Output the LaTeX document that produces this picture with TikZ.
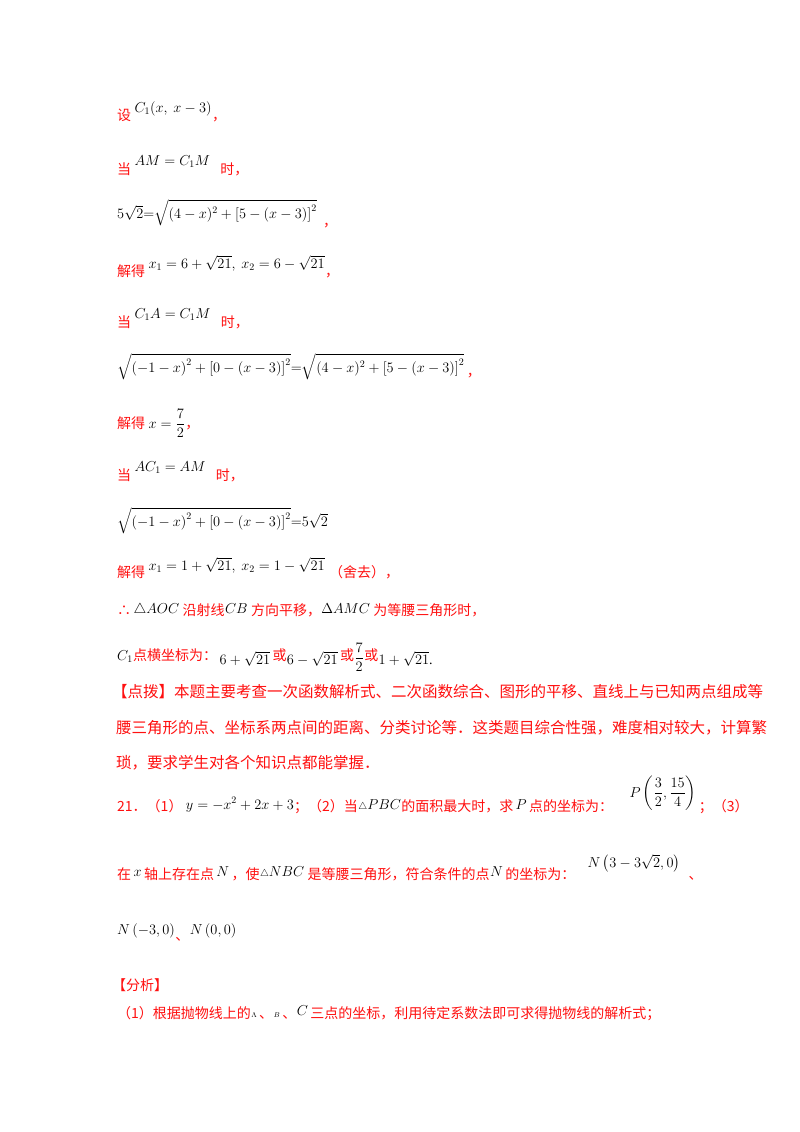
\documentclass[tikz,border=0pt]{standalone}
\usepackage{amsmath}
\usepackage{fontspec}
\setmainfont{Liberation Serif}
\newfontfamily\cjk{Noto Sans CJK SC}
\definecolor{rd}{HTML}{FF1010}
\begin{document}
\begin{tikzpicture}[x=1pt,y=-1pt,
  t/.style={anchor=base west,inner sep=0pt,font=\fontsize{14}{16}\selectfont},
  r/.style={t,text=rd,font=\fontsize{14}{16}\selectfont\cjk}]
\useasboundingbox[fill=white] (0,0) rectangle (800,1132);
\node[r] (a1) at (117,120) {设};
\node[t] (a2) at ([xshift=3,yshift=8]a1.base east) {$C_1(x,\ x-3)$};
\node[r] (a3) at ([yshift=-8]a2.base east) {，};
\node[r] (b1) at (117,174) {当};
\node[t] (b2) at ([xshift=3,yshift=9]b1.base east) {$AM=C_1M$};
\node[r] (b3) at ([xshift=10,yshift=-9]b2.base east) {时，};
\node[t] (c1) at (117,218) {$5\sqrt2{=}\sqrt{(4-x)^2+\left[5-(x-3)\right]^2}$};
\node[r] (c2) at ([xshift=6,yshift=-8]c1.base east) {，};
\node[r] (d1) at (117,276) {解得};
\node[t] (d2) at ([xshift=3,yshift=8]d1.base east) {$x_1=6+\sqrt{21},\ x_2=6-\sqrt{21}$};
\node[r] (d3) at ([yshift=-8]d2.base east) {，};
\node[r] (e1) at (117,327) {当};
\node[t] (e2) at ([xshift=3,yshift=9]e1.base east) {$C_1A=C_1M$};
\node[r] (e3) at ([xshift=10,yshift=-9]e2.base east) {时，};
\node[t] (f1) at (117,372) {$\sqrt{\left(-1-x\right)^2+\left[0-(x-3)\right]^2}{=}\sqrt{(4-x)^2+\left[5-(x-3)\right]^2}$};
\node[r] (f2) at ([xshift=2,yshift=-4]f1.base east) {，};
\node[r] (g1) at (117,428) {解得};
\node[t] (g2) at ([xshift=3]g1.base east) {$x=\dfrac72$};
\node[r] (g3) at (g2.base east) {，};
\node[r] (h1) at (117,480) {当};
\node[t] (h2) at ([xshift=3,yshift=9]h1.base east) {$AC_1=AM$};
\node[r] (h3) at ([xshift=10,yshift=-9]h2.base east) {时，};
\node[t] (i1) at (117,526) {$\sqrt{\left(-1-x\right)^2+\left[0-(x-3)\right]^2}{=}5\sqrt2$};
\node[r] (j1) at (117,577) {解得};
\node[t] (j2) at ([xshift=3,yshift=7]j1.base east) {$x_1=1+\sqrt{21},\ x_2=1-\sqrt{21}$};
\node[r] (j3) at ([xshift=4,yshift=-7]j2.base east) {（舍去），};
\node[r] (k1) at (117,615) {∴};
\node[t] (k2) at ([xshift=2,yshift=2]k1.base east) {$\triangle AOC$};
\node[r] (k3) at ([xshift=3,yshift=-2]k2.base east) {沿射线};
\node[t] (k4) at ([yshift=2]k3.base east) {$CB$};
\node[r] (k5) at ([xshift=3,yshift=-2]k4.base east) {方向平移，};
\node[t] (k6) at ([yshift=2]k5.base east) {$\Delta AMC$};
\node[r] (k7) at ([xshift=3,yshift=-2]k6.base east) {为等腰三角形时，};
\node[t] (l1) at (117,660) {$C_1$};
\node[r] (l2) at (l1.base east) {点横坐标为：};
\node[t] (l3) at ([xshift=2,yshift=-4]l2.base east) {$6+\sqrt{21}$};
\node[r] (l4) at ([xshift=2,yshift=4]l3.base east) {或};
\node[t] (l5) at ([yshift=-4]l4.base east) {$6-\sqrt{21}$};
\node[r] (l6) at ([xshift=2,yshift=4]l5.base east) {或};
\node[t] (l7) at ([yshift=-2]l6.base east) {$\dfrac72$};
\node[r] (l8) at ([yshift=2]l7.base east) {或};
\node[t] (l9) at ([yshift=-4]l8.base east) {$1+\sqrt{21}$.};
\node[r,font=\fontsize{15.5}{17}\selectfont\cjk] (m1) at (112,697) {【点拨】本题主要考查一次函数解析式、二次函数综合、图形的平移、直线上与已知两点组成等};
\node[r,font=\fontsize{15.5}{17}\selectfont\cjk] (m2) at (116,733) {腰三角形的点、坐标系两点间的距离、分类讨论等．这类题目综合性强，难度相对较大，计算繁};
\node[r,font=\fontsize{15.5}{17}\selectfont\cjk] (m3) at (116,768) {琐，要求学生对各个知识点都能掌握．};
\node[r] (n1) at (117,811) {21．（1）};
\node[t] (n2) at ([xshift=3,yshift=2]n1.base east) {$y=-x^2+2x+3$};
\node[r] (n3) at ([yshift=-2]n2.base east) {；（2）当};
\node[t] (n4) at ([yshift=2]n3.base east) {${\scriptstyle\triangle}PBC$};
\node[r] (n5) at ([yshift=-2]n4.base east) {的面积最大时，求};
\node[t] (n6) at ([xshift=2,yshift=2]n5.base east) {$P$};
\node[r] (n7) at ([xshift=2,yshift=-2]n6.base east) {点的坐标为：};
\node[t] (n8) at ([xshift=16,yshift=14]n7.base east) {$P\left(\dfrac32,\dfrac{15}4\right)$};
\node[r] (n9) at ([xshift=2,yshift=-14]n8.base east) {；（3）};
\node[r] (o1) at (117,879) {在};
\node[t] (o2) at ([xshift=2,yshift=3]o1.base east) {$x$};
\node[r] (o3) at ([xshift=2,yshift=-3]o2.base east) {轴上存在点};
\node[t] (o4) at ([xshift=2,yshift=3]o3.base east) {$N$};
\node[r] (o5) at ([xshift=2,yshift=-3]o4.base east) {，使};
\node[t] (o6) at ([yshift=3]o5.base east) {${\scriptstyle\triangle}NBC$};
\node[r] (o7) at ([xshift=3,yshift=-3]o6.base east) {是等腰三角形，符合条件的点};
\node[t] (o8) at ([yshift=3]o7.base east) {$N$};
\node[r] (o9) at ([xshift=2,yshift=-3]o8.base east) {的坐标为：};
\node[t] (o10) at ([xshift=12,yshift=12]o9.base east) {$N\left(3-3\sqrt2,0\right)$};
\node[r] (o11) at ([xshift=8,yshift=-12]o10.base east) {、};
\node[t] (p1) at (117,934) {$N\left(-3,0\right)$};
\node[r] (p2) at ([yshift=-6]p1.base east) {、};
\node[t] (p3) at ([yshift=6]p2.base east) {$N\left(0,0\right)$};
\node[r] (q1) at (112,990) {【分析】};
\node[r] (r1) at (117,1018) {（1）根据抛物线上的};
\node[t] (r2) at ([yshift=1]r1.base east) {\scriptsize$\Lambda$};
\node[r] (r3) at ([xshift=2,yshift=-1]r2.base east) {、};
\node[t] (r4) at ([yshift=1]r3.base east) {\scriptsize$B$};
\node[r] (r5) at ([xshift=2,yshift=-1]r4.base east) {、};
\node[t] (r6) at ([yshift=3]r5.base east) {$C$};
\node[r] (r7) at ([xshift=2,yshift=-3]r6.base east) {三点的坐标，利用待定系数法即可求得抛物线的解析式；};
\end{tikzpicture}
\end{document}
